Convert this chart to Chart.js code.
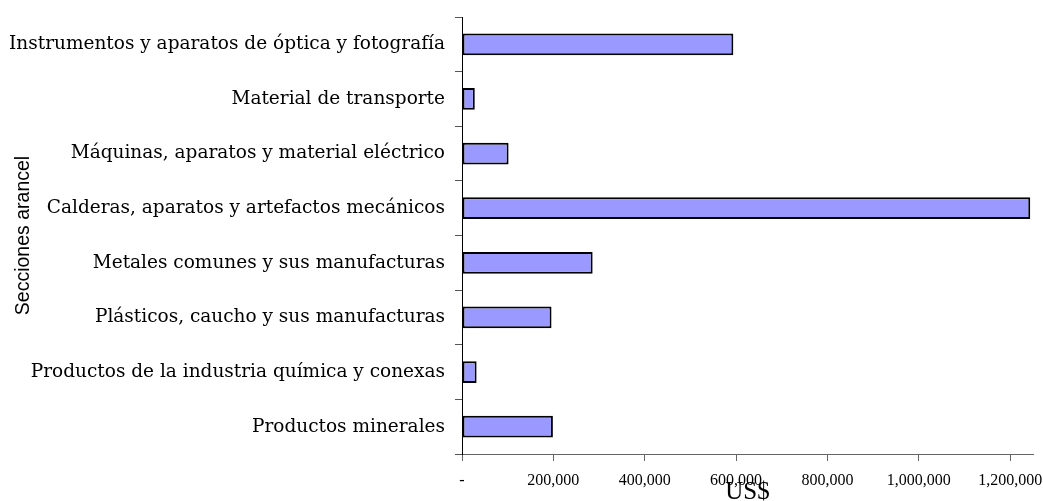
<!DOCTYPE html>
<html>
<head>
<meta charset="utf-8">
<script src="https://cdn.jsdelivr.net/npm/chart.js@4"></script>
<style>
	html, body { margin: 0; padding: 0; background: #fff; }
	#wrap { width: 1043px; height: 501px; }
</style>
</head>
<body>
<div id="wrap"><canvas id="seccionesChart" width="1043" height="501"></canvas></div>
<script>
const secciones = [
	"Instrumentos y aparatos de óptica y fotografía",
	"Material de transporte",
	"Máquinas, aparatos y material eléctrico",
	"Calderas, aparatos y artefactos mecánicos",
	"Metales comunes y sus manufacturas",
	"Plásticos, caucho y sus manufacturas",
	"Productos de la industria química y conexas",
	"Productos minerales"
];
const valoresUSD = [594000, 28000, 102000, 1244000, 286000, 196000, 32000, 199000];
const ticksUSD = [0, 200000, 400000, 600000, 800000, 1000000, 1200000];

const seccionesChart = new Chart(document.getElementById("seccionesChart"), {
	type: 'bar',
	data: {
		labels: secciones,
		datasets: [{
			label: 'US$',
			data: valoresUSD,
			backgroundColor: '#9999FF',
			borderColor: '#000000',
			borderWidth: 2,
			borderSkipped: false,
			categoryPercentage: 1,
			barPercentage: 0.4
		}]
	},
	options: {
		indexAxis: 'y',
		responsive: false,
		animation: false,
		layout: {
			padding: { left: 0, top: 17, right: 10, bottom: 0 }
		},
		plugins: {
			legend: { display: false },
			tooltip: { enabled: false }
		},
		scales: {
			x: {
				min: 0,
				max: 1250000,
				afterBuildTicks: function(axis) {
					axis.ticks = ticksUSD.map(v => ({ value: v }));
				},
				afterFit: function(axis) {
					axis.height = 47;
					axis.paddingLeft = 0;
					axis.paddingRight = 0;
				},
				grid: { drawOnChartArea: false, tickLength: 7, color: '#666' },
				border: { color: '#666', width: 1 },
				ticks: {
					maxRotation: 0,
					autoSkip: false,
					padding: 10,
					color: '#000',
					font: { family: '"Liberation Serif", serif', size: 16 },
					callback: function(value) {
						return value === 0 ? '-' : value.toLocaleString('en-US');
					}
				},
				title: {
					display: true,
					text: 'US$',
					color: '#000',
					font: { family: '"Liberation Serif", serif', size: 25, lineHeight: 1.2 },
					padding: { top: 0, bottom: -6 }
				}
			},
			y: {
				afterFit: function(axis) {
					axis.width = 462;
					axis.paddingTop = 0;
					axis.paddingBottom = 0;
				},
				grid: { offset: true, drawOnChartArea: false, tickLength: 7, color: '#555' },
				border: { color: '#000', width: 1 },
				ticks: {
					padding: 10,
					color: '#000',
					autoSkip: false,
					font: { family: '"DejaVu Serif", serif', size: 18.5 }
				},
				title: {
					display: true,
					text: 'Secciones arancel',
					color: '#000',
					font: { family: '"Liberation Sans", Arial, sans-serif', size: 19.5, lineHeight: 1.2 },
					padding: { top: 12, bottom: 0 }
				}
			}
		}
	}
});
</script>
</body>
</html>
